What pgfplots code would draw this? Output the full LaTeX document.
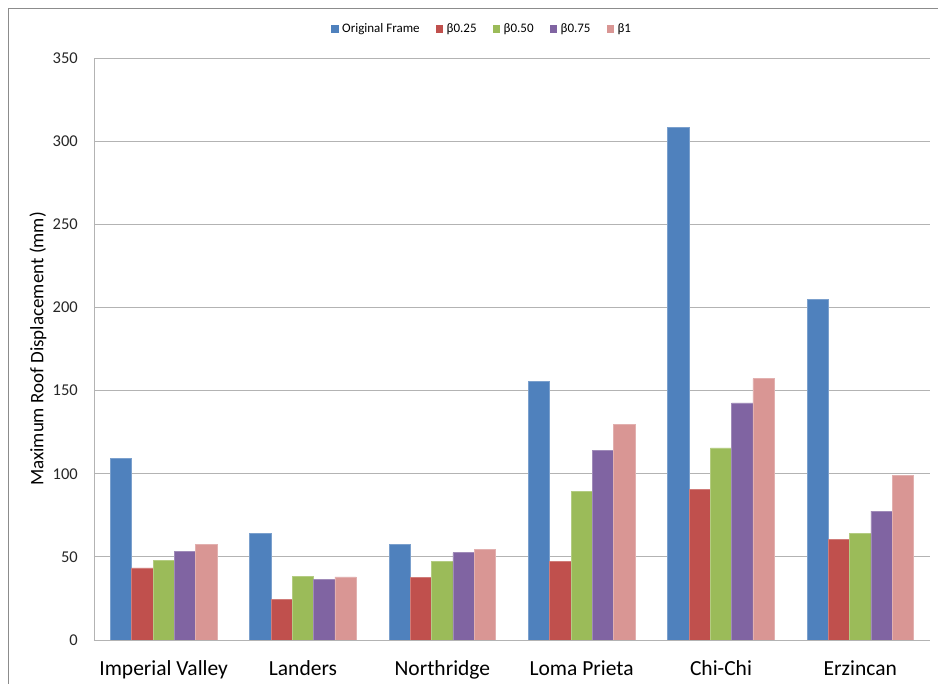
\documentclass[border=0pt]{standalone}
\usepackage{pgfplots}
\pgfplotsset{compat=1.18}
\usepackage{fontspec}
\setmainfont{Carlito}
\definecolor{cblue}{HTML}{4F81BD}
\definecolor{cred}{HTML}{C0504D}
\definecolor{cgreen}{HTML}{9BBB59}
\definecolor{cpurple}{HTML}{8064A2}
\definecolor{cpink}{HTML}{D99694}
\definecolor{cgrid}{HTML}{B3B3B3}
\definecolor{cframe}{HTML}{8C8C8C}
\begin{document}
\begin{tikzpicture}
\path[use as bounding box] (-94pt,-44pt) rectangle (844pt,640pt);
\draw[cframe, line width=1pt] (-85.5pt,-50pt) -- (-85.5pt,631pt) -- (850pt,631pt);
\begin{axis}[
  at={(0pt,0pt)}, anchor=south west,
  scale only axis, width=836pt, height=582pt,
  ybar=0pt, bar width=21.3pt,
  xmin=-0.5, xmax=5.5, ymin=0, ymax=350,
  xtick={0,1,2,3,4,5},
  xticklabels={Imperial Valley,Landers,Northridge,Loma Prieta,Chi-Chi,Erzincan},
  ytick={0,50,...,350},
  major tick length=0pt,
  axis x line*=bottom, axis y line*=left,
  axis line style={draw=cgrid, line width=0.9pt, -},
  ymajorgrids, grid style={cgrid, line width=0.9pt},
  /pgf/number format/assume math mode=true,
  yticklabel style={font=\fontsize{16.5}{18}\selectfont, anchor=east, inner sep=0pt, xshift=-16pt, text=black!85},
  xticklabel style={font=\fontsize{21.5}{24}\selectfont, anchor=base, inner sep=0pt, yshift=-36pt, text=black},
  ylabel={Maximum Roof Displacement (mm)},
  ylabel style={font=\fontsize{19}{22}\selectfont, at={(axis description cs:-0.067,0.5)}, anchor=center, text=black},
  legend columns=5,
  legend style={draw=none, fill=none, at={(axis description cs:0.2835,1.0498)}, anchor=west,
    font=\fontsize{13}{15}\selectfont, inner sep=0pt,
    /tikz/every even column/.append style={column sep=14.5pt},
    /tikz/every odd column/.append style={column sep=2pt},
    nodes={inner sep=1.5pt}},
  legend image code/.code={\fill[#1, draw=none] (0pt,-3.75pt) rectangle (7.5pt,3.75pt);},
]
\addplot[fill=cblue, draw=cblue!75!white, line width=0.6pt] coordinates {(0,109) (1,64) (2,57.3) (3,155.6) (4,308.3) (5,205)};
\addplot[fill=cred, draw=cred!75!white, line width=0.6pt] coordinates {(0,43.3) (1,24.2) (2,37.5) (3,47.2) (4,90.8) (5,60.4)};
\addplot[fill=cgreen, draw=cgreen!75!white, line width=0.6pt] coordinates {(0,47.9) (1,38.3) (2,47.5) (3,89.3) (4,115.5) (5,64.3)};
\addplot[fill=cpurple, draw=cpurple!75!white, line width=0.6pt] coordinates {(0,53.3) (1,36.3) (2,52.5) (3,114) (4,142.6) (5,77.5)};
\addplot[fill=cpink, draw=cpink!75!white, line width=0.6pt] coordinates {(0,57.3) (1,37.9) (2,54.5) (3,129.5) (4,157.2) (5,99.2)};
\legend{Original Frame,β0.25,β0.50,β0.75,β1}
\end{axis}
\end{tikzpicture}
\end{document}
